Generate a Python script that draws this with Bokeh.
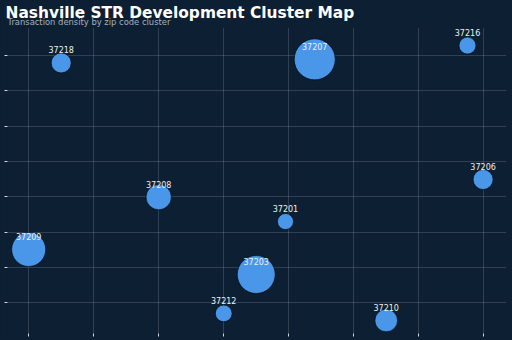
from bokeh.plotting import figure
from bokeh.models import ColumnDataSource, FixedTicker, Title, Range1d, CustomJSTickFormatter
from bokeh.core.properties import value
from bokeh.embed import file_html
from bokeh.resources import INLINE
import numpy as np

# Data (grid-unit coordinates)
zips = ["37218", "37207", "37216", "37206", "37208", "37201", "37209", "37203", "37212", "37210"]
x_pos = [0.50, 4.40, 6.75, 6.99, 2.00, 3.95, 0.00, 3.50, 3.00, 5.50]
y_pos = [6.79, 6.89, 7.28, 3.49, 2.99, 2.30, 1.51, 0.80, -0.30, -0.50]
transactions = [100, 420, 72, 100, 160, 64, 290, 360, 70, 128]
x_ticks = [0, 1, 2, 3, 4, 5, 6, 7]
y_ticks = [0, 1, 2, 3, 4, 5, 6, 7]

TITLE = "Nashville STR Development Cluster Map"
SUBTITLE = "Transaction density by zip code cluster"

BG = "#0c1f33"
FONT = "DejaVu Sans"
src = ColumnDataSource(dict(
    x=x_pos, y=y_pos, zip=zips,
    size=[2 * np.sqrt(v) for v in transactions],
))

p = figure(width=512, height=340, output_backend="svg", toolbar_location=None,
           x_range=Range1d(-0.326, 7.35), y_range=Range1d(-0.869, 7.792),
           min_border_left=7, min_border_right=6, min_border_top=27, min_border_bottom=7)
p.styles = {"background-color": BG}
p.background_fill_color = BG
p.border_fill_color = BG
p.outline_line_color = None

p.title.text = TITLE
p.title.text_font = FONT
p.title.text_font_size = "15.4px"
p.title.text_font_style = "bold"
p.title.text_color = "#ffffff"
p.title.standoff = -17.6
p.title.offset = -2
p.add_layout(Title(text=SUBTITLE, text_font=FONT, text_font_size="8.4px", text_font_style="normal",
                   text_color="#a8b0bc", standoff=2, offset=0), "above")

for ax, ticks in ((p.xaxis, x_ticks), (p.yaxis, y_ticks)):
    ax.ticker = FixedTicker(ticks=ticks)
    ax.formatter = CustomJSTickFormatter(code="return ''")
    ax.major_label_text_font_size = "0px"
    ax.major_label_standoff = 0
    ax.axis_line_color = None
    ax.major_tick_line_color = "#d0d6de"
    ax.major_tick_out = 3
    ax.major_tick_in = 0
    ax.minor_tick_line_color = None

p.grid.grid_line_color = "#ffffff"
p.grid.grid_line_alpha = 0.15

p.scatter("x", "y", size="size", source=src, fill_color="#4a97ea", fill_alpha=1,
          line_color="#000000", line_alpha=0.6, line_width=1)
p.text("x", "y", text="zip", source=src, y_offset=-13, text_align="center",
       text_baseline="middle", text_font=value(FONT), text_font_size="8px",
       text_color="#f0f0f0")

open("out.html", "w").write(file_html(p, INLINE))
